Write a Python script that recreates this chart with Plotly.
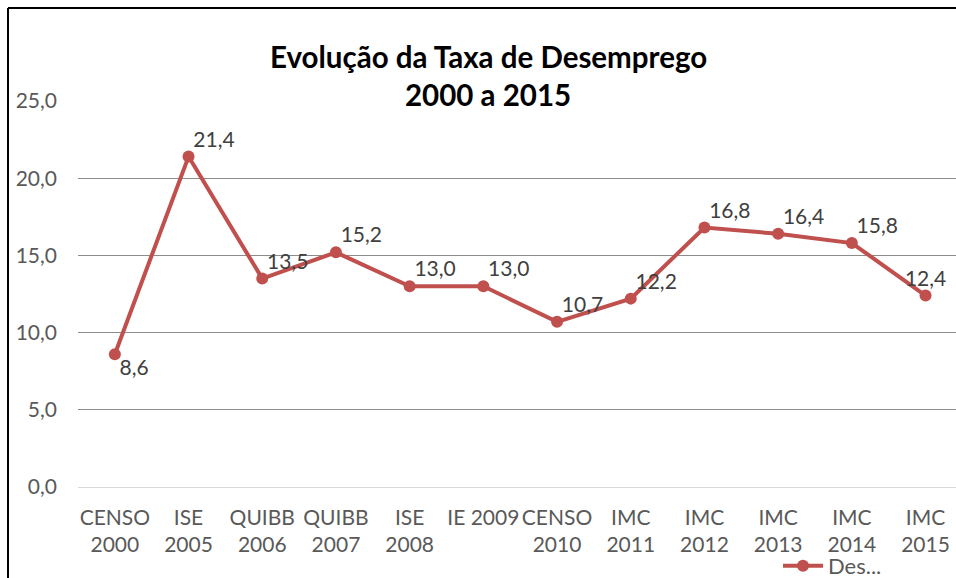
import plotly.graph_objects as go

categories = ["CENSO<br>2000", "ISE<br>2005", "QUIBB<br>2006", "QUIBB<br>2007",
              "ISE<br>2008", "IE 2009", "CENSO<br>2010", "IMC<br>2011",
              "IMC<br>2012", "IMC<br>2013", "IMC<br>2014", "IMC<br>2015"]
values = [8.6, 21.4, 13.5, 15.2, 13.0, 13.0, 10.7, 12.2, 16.8, 16.4, 15.8, 12.4]
label_positions = ["bottom right", "top right", "top right", "top right",
                   "top right", "top right", "top right", "top right",
                   "top right", "top right", "top right", "top center"]
series_name = "Des..."
y_ticks = [0, 5, 10, 15, 20, 25]
title_lines = ["Evolução da Taxa de Desemprego", "2000 a 2015"]

FONT = "Lato, 'Open Sans', sans-serif"
RED = "#C0504D"
xs = list(range(len(categories)))

fig = go.Figure()
fig.add_trace(go.Scatter(
    x=xs, y=values, name=series_name,
    mode="lines+markers",
    line=dict(color=RED, width=4),
    marker=dict(color=RED, size=12),
))
fig.add_trace(go.Scatter(
    x=xs, y=values, mode="markers+text", showlegend=False, hoverinfo="skip",
    marker=dict(size=6, opacity=0),
    texttemplate="%{y:.1f}",
    textposition=label_positions,
    textfont=dict(family=FONT, size=21, color="#404040"),
    cliponaxis=False,
))

W, H = 956, 578
L, R, T, B = 78, 0, 101, 91
pw, ph = W - L - R, H - T - B
band = 73.7
x_hi = -0.5 + pw / band

def px_x(px):
    return (px - L) / pw

def px_y(py):
    return (H - B - py) / ph

fig.update_layout(
    width=W, height=H,
    margin=dict(l=L, r=R, t=T, b=B, pad=0, autoexpand=False),
    paper_bgcolor="white", plot_bgcolor="white",
    separators=", ",
    font=dict(family=FONT, size=21, color="#595959"),
    showlegend=True,
    legend=dict(x=px_x(778), y=px_y(566), xanchor="left", yanchor="middle",
                orientation="h", bgcolor="rgba(0,0,0,0)",
                font=dict(family=FONT, size=22, color="#595959"),
                itemwidth=40),
    xaxis=dict(range=[-0.5, x_hi], tickmode="array",
               tickvals=xs, ticktext=categories,
               showgrid=False, zeroline=False, showline=False, ticks="",
               ticklabelstandoff=16, automargin=False,
               tickfont=dict(family=FONT, size=21, color="#595959")),
    yaxis=dict(range=[0, 25], tickmode="array", tickvals=y_ticks,
               tickformat=".1f", showgrid=True, gridcolor="#8C8C8C", gridwidth=1,
               zeroline=True, zerolinecolor="#D9D9D9", zerolinewidth=1,
               showline=False, ticks="", ticklabelstandoff=20, automargin=False,
               tickfont=dict(family=FONT, size=21, color="#595959")),
    shapes=[
        dict(type="line", xref="paper", yref="paper",
             x0=px_x(8), x1=px_x(960), y0=px_y(8), y1=px_y(8),
             line=dict(color="black", width=2)),
        dict(type="line", xref="paper", yref="paper",
             x0=px_x(8), x1=px_x(8), y0=px_y(8), y1=px_y(590),
             line=dict(color="black", width=2)),
    ],
    annotations=[
        dict(text="<b>" + title_lines[0] + "</b>", xref="paper", yref="paper",
             x=px_x(488), y=px_y(56), xanchor="center", yanchor="middle",
             showarrow=False, font=dict(family=FONT, size=29.5, color="black")),
        dict(text="<b>" + title_lines[1] + "</b>", xref="paper", yref="paper",
             x=px_x(488), y=px_y(95), xanchor="center", yanchor="middle",
             showarrow=False, font=dict(family=FONT, size=29.5, color="black")),
    ],
)

fig.write_html("out.html", config={"displayModeBar": False},
               post_script="document.body.style.margin='0';document.body.style.overflow='hidden';")
